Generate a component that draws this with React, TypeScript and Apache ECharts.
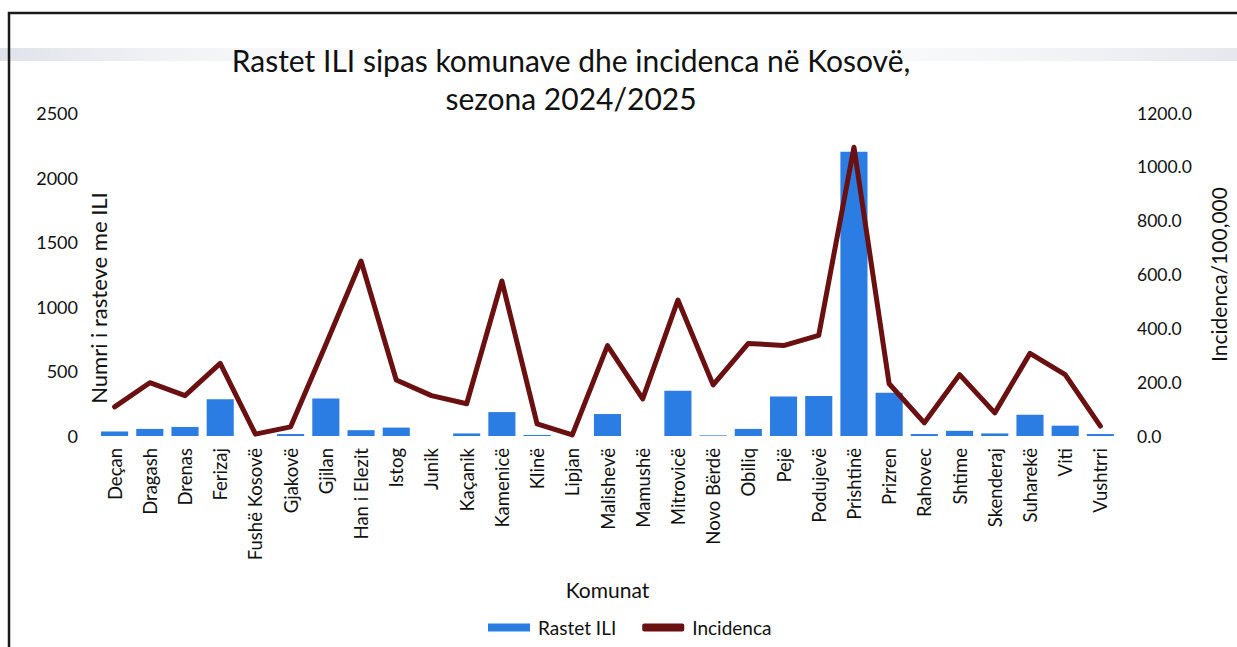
import React, { useEffect, useRef } from "react";
import * as echarts from "echarts";

const categories = [
  "Deçan", "Dragash", "Drenas", "Ferizaj", "Fushë Kosovë", "Gjakovë", "Gjilan",
  "Han i Elezit", "Istog", "Junik", "Kaçanik", "Kamenicë", "Klinë", "Lipjan",
  "Malishevë", "Mamushë", "Mitrovicë", "Novo Bërdë", "Obiliq", "Pejë", "Podujevë",
  "Prishtinë", "Prizren", "Rahovec", "Shtime", "Skenderaj", "Suharekë", "Viti", "Vushtrri",
];

const rastetILI = [
  35, 55, 70, 285, 0, 15, 290,
  45, 65, 0, 20, 185, 8, 0,
  170, 0, 350, 5, 55, 305, 310,
  2200, 335, 15, 40, 20, 165, 80, 15,
];

const incidenca = [
  108, 198, 150, 270, 7, 34, 340,
  650, 208, 150, 120, 576, 45, 4,
  336, 138, 505, 190, 344, 336, 374,
  1073, 194, 49, 228, 86, 307, 228, 37,
];

const titleText = "Rastet ILI sipas komunave dhe incidenca në Kosovë,\nsezona 2024/2025";
const leftAxisName = "Numri i rasteve me ILI";
const rightAxisName = "Incidenca/100,000";
const xAxisName = "Komunat";

const FONT = "Lato, 'Open Sans', sans-serif";

export default function App() {
  const ref = useRef<HTMLDivElement>(null);

  useEffect(() => {
    if (!ref.current) return;
    const chart = echarts.init(ref.current, undefined, { renderer: "svg" });
    chart.setOption({
      animation: false,
      backgroundColor: "#ffffff",
      textStyle: { fontFamily: FONT },
      title: {
        text: titleText,
        left: 566,
        top: 36,
        textAlign: "center",
        textStyle: {
          fontFamily: FONT,
          fontSize: 30,
          fontWeight: "normal",
          color: "#111",
          lineHeight: 38,
        },
      },
      graphic: [
        {
          type: "rect",
          shape: { x: 0, y: 48, width: 1237, height: 13 },
          style: {
            fill: new echarts.graphic.LinearGradient(0, 0, 1, 0, [
              { offset: 0, color: "rgba(215,220,228,0.8)" },
              { offset: 0.15, color: "rgba(228,231,236,0.5)" },
              { offset: 0.4, color: "rgba(245,246,248,0.1)" },
              { offset: 0.72, color: "rgba(235,237,241,0.3)" },
              { offset: 1, color: "rgba(218,222,229,0.7)" },
            ]),
          },
          z: -10,
          silent: true,
        },
        {
          type: "rect",
          shape: { x: 9, y: 13, width: 1260, height: 660 },
          style: { fill: "none", stroke: "#1a1a1a", lineWidth: 2.5 },
          silent: true,
        },
        {
          type: "text",
          x: 98,
          y: 298,
          rotation: Math.PI / 2,
          style: {
            text: leftAxisName,
            fontFamily: FONT,
            fontSize: 22,
            fill: "#111",
            align: "center",
            verticalAlign: "middle",
          },
        },
      ],
      legend: {
        left: 483,
        top: 613,
        itemWidth: 42,
        itemHeight: 8,
        itemGap: 26,
        textStyle: { fontFamily: FONT, fontSize: 19, color: "#111", padding: [0, 0, 0, 3] },
        data: [
          { name: "Rastet ILI", icon: "rect" },
          { name: "Incidenca", icon: "roundRect" },
        ],
      },
      grid: { left: 97, right: 116, top: 113, bottom: 211, containLabel: false },
      xAxis: {
        type: "category",
        data: categories,
        name: xAxisName,
        nameLocation: "middle",
        nameGap: 143,
        nameTextStyle: { fontFamily: FONT, fontSize: 21, color: "#111" },
        axisLine: { show: false },
        axisTick: { show: false },
        axisLabel: {
          rotate: 90,
          interval: 0,
          margin: 12,
          fontFamily: FONT,
          fontSize: 18.5,
          color: "#111",
        },
      },
      yAxis: [
        {
          type: "value",
          min: 0,
          max: 2500,
          interval: 500,
          splitLine: { show: false },
          axisLine: { show: false },
          axisTick: { show: false },
          axisLabel: {
            margin: 19,
            fontFamily: FONT,
            fontSize: 18,
            color: "#111",
            formatter: (v: number) => String(v),
          },
        },
        {
          type: "value",
          min: 0,
          max: 1200,
          interval: 200,
          position: "right",
          name: rightAxisName,
          nameLocation: "middle",
          nameRotate: 90,
          nameGap: 90,
          nameTextStyle: { fontFamily: FONT, fontSize: 21, color: "#111" },
          splitLine: { show: false },
          axisLine: { show: false },
          axisTick: { show: false },
          axisLabel: {
            margin: 19,
            fontFamily: FONT,
            fontSize: 17.5,
            color: "#111",
            formatter: (v: number) => v.toFixed(1),
          },
        },
      ],
      series: [
        {
          name: "Rastet ILI",
          type: "bar",
          data: rastetILI,
          yAxisIndex: 0,
          barWidth: "77%",
          itemStyle: { color: "#2b7de3" },
        },
        {
          name: "Incidenca",
          type: "line",
          data: incidenca,
          yAxisIndex: 1,
          symbol: "none",
          lineStyle: { color: "#6a1010", width: 5, join: "round", cap: "round" },
          itemStyle: { color: "#6a1010" },
          z: 5,
        },
      ],
    });
    return () => chart.dispose();
  }, []);

  return (
    <div
      ref={ref}
      style={{ position: "absolute", left: 0, top: 0, width: 1237, height: 647 }}
    />
  );
}
